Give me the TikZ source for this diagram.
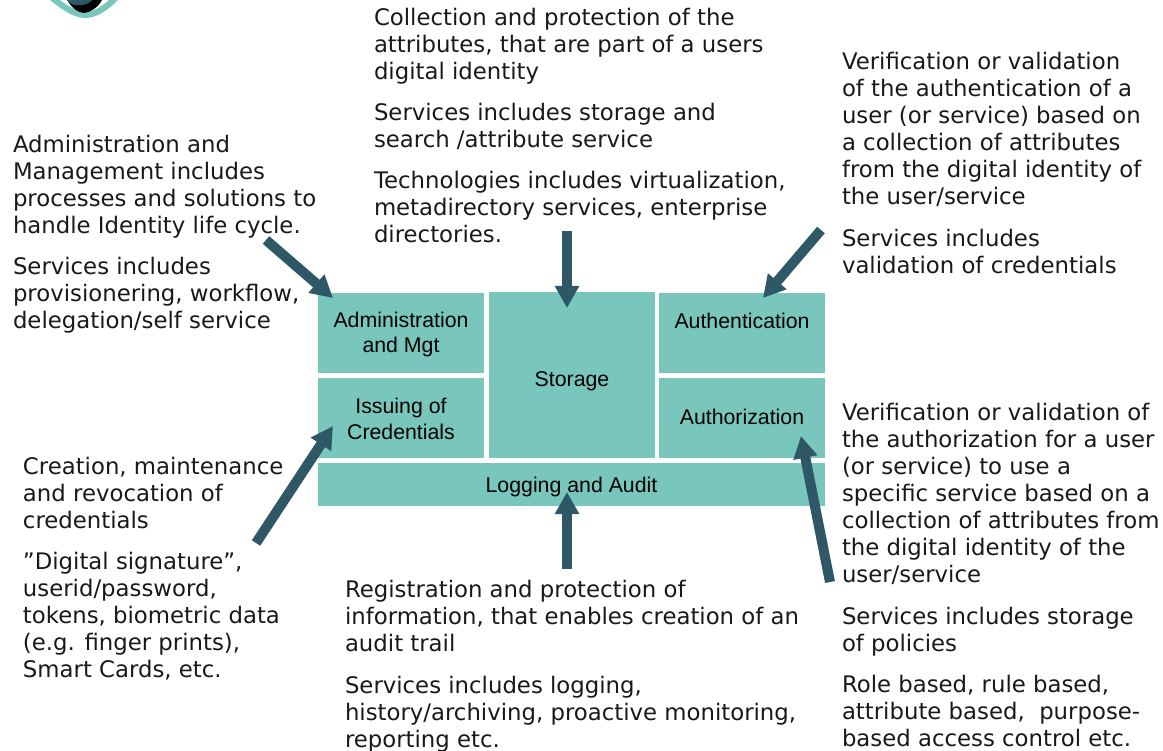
\documentclass[tikz,border=0pt]{standalone}
\usepackage{fontspec}
\setmainfont{DejaVu Sans}
\newfontfamily\boxfont{Liberation Sans}
\usetikzlibrary{arrows.meta}
\definecolor{boxteal}{RGB}{120,198,188}
\definecolor{arrowteal}{RGB}{47,88,102}
\definecolor{ink}{RGB}{25,25,25}
\tikzset{
  para/.style={anchor=north west,inner sep=0pt,outer sep=0pt,align=left,text=ink,
    font=\fontsize{22.8}{27}\selectfont},
  block/.style={fill=boxteal,inner sep=0pt,outer sep=0pt,align=center,text=black,
    font=\boxfont\fontsize{21.3}{25}\selectfont},
  bigarrow/.style={draw=arrowteal,line width=10pt,
    -{Triangle[length=22pt,width=23pt,fill=arrowteal]}},
}
\newcommand{\lbl}[2]{\raisebox{#1}[0pt][0pt]{#2}}
\begin{document}
\begin{tikzpicture}[x=1pt,y=-1pt]
\useasboundingbox (0,0) rectangle (1163,751);
% logo, cut by the top edge
\begin{scope}
\clip (0,0) rectangle (1163,751);
\fill[boxteal] (50,0) .. controls (65,12) and (75,18) .. (85,18) .. controls (97,18) and (108,10) .. (118,0) -- cycle;
\fill[white] (60,0) .. controls (68,6) and (78,12) .. (85,12) .. controls (93,12) and (102,6) .. (109,0) -- cycle;
\fill[black] (67,0) .. controls (72,8) and (78,13) .. (84,13) .. controls (92,12) and (99,6) .. (102,0) -- cycle;
\fill[arrowteal] (67,0) .. controls (70,4) and (74,6) .. (80,5) .. controls (85,5) and (90,3) .. (92,0) -- cycle;
\end{scope}
% boxes
\node[block,minimum width=166pt,minimum height=80pt] (admin) at (401,333) {\lbl{-7pt}{Administration}\\\lbl{-7pt}{and Mgt}};
\node[block,minimum width=166pt,minimum height=80pt] (issue) at (401,418) {\lbl{-8pt}{Issuing of}\\\lbl{-9pt}{Credentials}};
\node[block,minimum width=166pt,minimum height=166pt] (storage) at (572,375) {\lbl{-12pt}{Storage}};
\node[block,minimum width=166pt,minimum height=80pt] (authn) at (742,333) {\lbl{4pt}{Authentication}};
\node[block,minimum width=166pt,minimum height=80pt] (authz) at (742,418) {\lbl{-6pt}{Authorization}};
\node[block,minimum width=507pt,minimum height=43pt] (log) at (571.5,484.5) {\lbl{-7.5pt}{Logging and Audit}};
% texts
\node[para] (tstorage) at (374,7) {\strut Collection and protection of the\\attributes, that are part of a users\\digital identity\\[14pt]Services includes storage and\\search /attribute service\\[14pt]Technologies includes virtualization,\\metadirectory services, enterprise\\directories.};
\node[para] (tadmin) at (13,134) {\strut Administration and\\Management includes\\processes and solutions to\\handle Identity life cycle.\\[14pt]Services includes\\provisionering, workflow,\\delegation/self service};
\node[para] (tauthn) at (842,51) {\strut Verification or validation\\of the authentication of a\\user (or service) based on\\a collection of attributes\\from the digital identity of\\the user/service\\[15pt]Services includes\\validation of credentials};
\node[para] (tissue) at (23,456) {\strut Creation, maintenance\\and revocation of\\credentials\\[14pt]”Digital signature”,\\userid/password,\\tokens, biometric data\\(e.g. finger prints),\\Smart Cards, etc.};
\node[para] (tlog) at (345,579) {\strut Registration and protection of\\information, that enables creation of an\\audit trail\\[14.5pt]Services includes logging,\\history/archiving, proactive monitoring,\\reporting etc.};
\node[para] (tauthz) at (842,402) {\strut Verification or validation of\\the authorization for a user\\(or service) to use a\\specific service based on a\\collection of attributes from\\the digital identity of the\\user/service\\[15pt]Services includes storage\\of policies\\[14pt]Role based, rule based,\\attribute based,\ \ purpose-\\based access control etc.};
% arrow ends
\coordinate (sadmin) at (266,240);
\coordinate (eadmin) at (333,298);
\coordinate (sissue) at (256,543);
\coordinate (eissue) at (333,426);
\coordinate (sstorage) at (567,231);
\coordinate (estorage) at (567,308);
\coordinate (slog) at (567,569);
\coordinate (elog) at (567,492);
\coordinate (sauthn) at (821,230);
\coordinate (eauthn) at (763,298);
\coordinate (sauthz) at (830,582);
\coordinate (eauthz) at (801,436);
\draw[bigarrow] (sadmin) -- (eadmin);
\draw[bigarrow] (sissue) -- (eissue);
\draw[bigarrow] (sstorage) -- (estorage);
\draw[bigarrow] (slog) -- (elog);
\draw[bigarrow] (sauthn) -- (eauthn);
\draw[bigarrow] (sauthz) -- (eauthz);
\end{tikzpicture}
\end{document}
